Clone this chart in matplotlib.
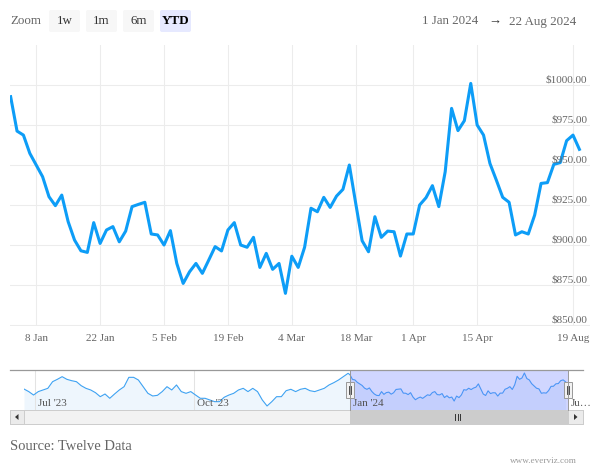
import numpy as np
import matplotlib.pyplot as plt
from matplotlib.patches import Rectangle, FancyBboxPatch, Polygon

plt.rcParams['font.family'] = ['Liberation Serif', 'DejaVu Sans']

# daily close, 2 Jan 2024 onwards (main chart)
price = [992.7, 971.2, 968.7, 957.3, 950.0, 942.7, 930.2, 924.6, 931.2, 914.6,
         903.1, 896.4, 895.4, 914.0, 901.0, 909.4, 911.5, 902.0, 908.7, 924.0,
         925.4, 926.7, 906.9, 906.3, 900.0, 909.0, 888.5, 876.0, 883.3, 888.5,
         882.3, 890.6, 899.0, 896.3, 909.4, 914.0, 900.0, 898.6, 904.8, 886.0,
         894.8, 884.8, 888.5, 869.8, 893.0, 886.0, 898.6, 923.0, 920.8, 929.8,
         923.5, 930.6, 934.8, 950.0, 926.0, 902.7, 895.8, 917.7, 904.8, 908.7,
         908.3, 893.1, 906.9, 906.9, 925.0, 929.6, 937.1, 924.0, 945.8, 985.4,
         971.5, 977.7, 1001.0, 975.0, 968.7, 951.0, 940.6, 929.8, 926.7, 906.3,
         908.3, 906.9, 918.7, 938.5, 939.0, 950.4, 951.5, 965.2, 968.7, 959.8]

tick_idx = [4, 14, 24, 34, 44, 54, 63, 73, 88]
tick_labels = ['8 Jan', '22 Jan', '5 Feb', '19 Feb', '4 Mar', '18 Mar',
               '1 Apr', '15 Apr', '19 Aug']
price_ticks = [850, 875, 900, 925, 950, 975, 1000]

# navigator history, Jun - Dec 2023
nav_2023 = [926, 914, 898, 914, 921.6, 929.3, 960.4, 971.4, 983.8, 971.4,
            965, 960.4, 941.7, 929.3, 921.6, 909, 890.3, 902.8, 882.7, 902.8,
            921.6, 937, 980.7, 980.7, 968.3, 937, 906, 893.5, 896.6, 914,
            937, 921.6, 945, 914, 906, 914, 898, 882.7, 882.7, 875,
            867, 867, 887.4, 898, 906, 921.6, 929.3, 914, 929.3, 914,
            875, 846.8, 867, 890.3, 890.3, 918.3, 924.8, 914, 924.8, 929.3,
            918.3, 914, 921.6, 929.3, 945, 955.7, 968.3, 983.8, 999.4]
nav_tick_idx = [-130, -64.4, 0, 90]
nav_tick_labels = ["Jul '23", "Oct '23", "Jan '24", "Ju\u2026"]

buttons = ['1w', '1m', '6m', 'YTD']
range_from, range_to = '1 Jan 2024', '22 Aug 2024'

W, H = 600, 470
GREY = '#666666'
BLUE = '#0d9df7'


def px(x0, y0, x1, y1):
    return [x0 / W, 1 - y1 / H, (x1 - x0) / W, (y1 - y0) / H]


fig = plt.figure(figsize=(6, 4.7), dpi=100)

###############################################################################
# Main chart
ax = fig.add_axes(px(10, 45, 590, 326))
x = np.arange(len(price))
ax.plot(x, price, color=BLUE, lw=2.2, solid_joinstyle='round', zorder=3)
ax.set_xlim(-0.1, 90.66)
ax.set_ylim(849.4, 1025)
ax.set_xticks(tick_idx, labels=tick_labels)
ax.set_yticks(price_ticks, labels=[])
ax.tick_params(axis='y', length=0)
ax.tick_params(axis='x', length=0, pad=6, labelsize=8, labelcolor=GREY)
for v in price_ticks:
    ax.annotate('$%.2f' % v, (1, v), xycoords=ax.get_yaxis_transform(),
                xytext=(-2, 1.6), textcoords='offset points',
                ha='right', va='baseline', fontsize=8, color=GREY)
ax.grid(color='#ececec', lw=0.75)
for s in ax.spines.values():
    s.set_visible(False)

###############################################################################
# Navigator
nav = fig.add_axes(px(24, 370, 568, 410))
nav_x = np.concatenate([np.linspace(-134.6, -0.8, len(nav_2023)), x])
nav_y = np.concatenate([nav_2023, price])
nav.fill_between(nav_x, nav_y, 828, color='#eef6fd', lw=0, zorder=1)
for t in nav_tick_idx:
    nav.axvline(t, color='#e3e3e3', lw=0.75, zorder=2)
nav.plot(nav_x, nav_y, color='#3ea2f2', lw=0.8, zorder=3)
nav.axvspan(0, 90, color=(0.4, 0.47, 1.0), alpha=0.3, lw=0, zorder=4)
nav.set_xlim(-134.6, 90)
nav.set_ylim(828, 1015)
nav.set_xticks([])
nav.set_yticks([])
for t, lab in zip(nav_tick_idx, nav_tick_labels):
    nav.annotate(lab, (t, 0), xycoords=nav.get_xaxis_transform(),
                 xytext=(2, 1.5), textcoords='offset points',
                 fontsize=8, color='#555555', ha='left', va='bottom',
                 annotation_clip=False, zorder=5)
for s in nav.spines.values():
    s.set_visible(False)

###############################################################################
# Range selector, scrollbar and texts
ui = fig.add_axes([0, 0, 1, 1], zorder=5)
ui.set_xlim(0, W)
ui.set_ylim(H, 0)
ui.axis('off')
ui.patch.set_visible(False)

ui.text(10, 21.5, 'Zoom', fontsize=9.4, color=GREY, va='center')
for i, b in enumerate(buttons):
    x0 = 49 + i * 37
    sel = b == 'YTD'
    ui.add_patch(FancyBboxPatch((x0, 10), 31, 22,
                                boxstyle='round,pad=0,rounding_size=2',
                                fc='#e6e9ff' if sel else '#f7f7f7', ec='none'))
    ui.text(x0 + 15.5, 21.5, b, fontsize=9.4, ha='center', va='center',
            color='#000000' if sel else '#333333',
            fontweight='bold' if sel else 'normal')

ui.text(478, 21.5, range_from, fontsize=9.4, color=GREY, ha='right', va='center')
ui.text(494.5, 21.5, '\u2192', fontsize=9.4, color='#333333', ha='center', va='center')
ui.text(509, 21.5, range_to, fontsize=9.4, color=GREY, ha='left', va='center')

# navigator outline and handles
ui.plot([10, 583], [370, 370], color='#999999', lw=0.9)
ui.plot([350, 350], [370, 410], color='#999999', lw=0.7)
ui.plot([568, 568], [370, 410], color='#999999', lw=0.7)
for hx in (350, 568):
    ui.add_patch(Rectangle((hx - 4, 382), 8, 16, fc='#f2f2f2', ec='#999999', lw=0.7))
    ui.plot([hx - 1.2, hx - 1.2], [386, 394], color='#333333', lw=0.6)
    ui.plot([hx + 1.2, hx + 1.2], [386, 394], color='#333333', lw=0.6)

# scrollbar
ui.add_patch(Rectangle((10, 410), 573, 14, fc='#f2f2f2', ec='#cccccc', lw=0.7))
ui.add_patch(Rectangle((350, 410), 218, 14, fc='#cccccc', ec='#cccccc', lw=0.7))
for gx in (455, 457.5, 460):
    ui.plot([gx, gx], [414, 420], color='#333333', lw=0.7)
ui.add_patch(Rectangle((10, 410), 14, 14, fc='#ebebeb', ec='#cccccc', lw=0.7))
ui.add_patch(Rectangle((568, 410), 15, 14, fc='#ebebeb', ec='#cccccc', lw=0.7))
ui.add_patch(Polygon([[18.5, 414], [18.5, 420], [15, 417]], fc='#333333', ec='none'))
ui.add_patch(Polygon([[574, 414], [574, 420], [577.5, 417]], fc='#333333', ec='none'))

ui.text(10, 446, 'Source: Twelve Data', fontsize=10.5, color=GREY, va='center')
ui.text(577, 461, 'www.everviz.com', fontsize=6.6, color='#999999',
        ha='right', va='center')

fig.savefig('out.png', dpi=100)
